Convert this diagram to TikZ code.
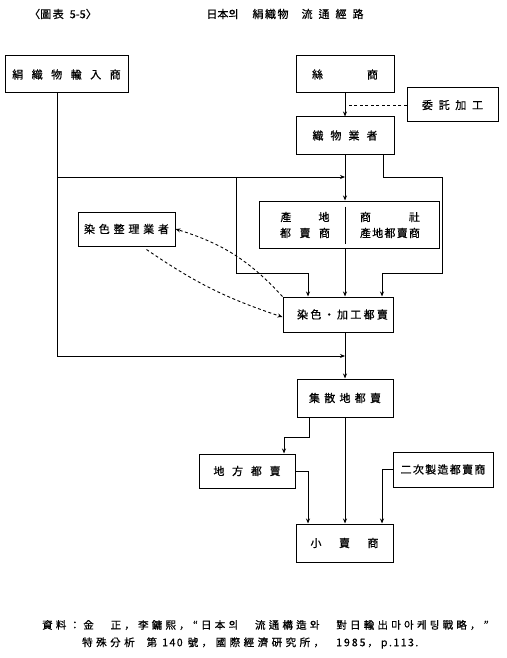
\documentclass[tikz,border=0pt]{standalone}
\usepackage{fontspec}
\setmainfont{Noto Sans CJK KR}[FakeBold=0.6]
\usetikzlibrary{arrows.meta,calc}
\makeatletter
\newcommand\spc[2]{\def\spc@gap{#1}\spc@loop#2\relax}
\def\spc@loop#1#2{#1\ifx\relax#2\expandafter\@gobble\else\hspace{\spc@gap}\expandafter\spc@loop\fi#2}
\makeatother
\tikzset{
  box/.style={draw, line width=1pt, inner sep=0pt, font=\fontsize{11}{16}\selectfont},
  lbl/.style={inner sep=0pt, font=\fontsize{11}{16}\selectfont},
  conn/.style={line width=0.9pt},
  arr/.style={conn, -{Stealth[length=5pt,width=4pt]}},
  dashline/.style={conn, dash pattern=on 3pt off 2.5pt},
}
\begin{document}
\begin{tikzpicture}[x=1pt,y=-1pt]
\useasboundingbox (0,0) rectangle (506,658);
% title
\node[lbl, font=\fontsize{11}{12}\selectfont] (t1) at (63,14) {〈圖\hspace{1.5pt}表\hspace{6pt}5-5〉};
\node[lbl, font=\fontsize{11}{12}\selectfont] (t2) at (285,14) {日本의\hspace{14pt}\spc{1.5pt}{絹織物}\hspace{13pt}\spc{6pt}{流通經路}};
% boxes
\node[box, minimum width=123pt, minimum height=37pt] (imp) at (66.5,74.5) {\spc{8.5pt}{絹織物輸入商}};
\node[box, minimum width=98pt, minimum height=37pt] (silk) at (345,74.5) {絲\hspace{44pt}商};
\node[box, minimum width=91pt, minimum height=34pt] (itaku) at (452.5,105) {\spc{5.7pt}{委託加工}};
\node[box, minimum width=98pt, minimum height=37pt] (weaver) at (345,135.5) {\spc{7pt}{織物業者}};
\node[box, minimum width=180pt, minimum height=47pt] (sanchi) at (349,224.5) {};
\node[lbl, align=center] (sL) at (305,225) {\spc{27pt}{產地}\\\spc{8.5pt}{都賣商}};
\node[lbl, align=center] (sR) at (390,225) {\spc{38pt}{商社}\\\spc{1.25pt}{產地都賣商}};
\draw[conn] ($(sanchi.north)+(-4,6)$) coordinate (dv1) -- ($(sanchi.south)+(-4,-5)$) coordinate (dv2);
\node[box, minimum width=97pt, minimum height=34pt] (dye) at (126.5,229) {\spc{3.8pt}{染色整理業者}};
\node[box, minimum width=110pt, minimum height=35pt] (dyew) at (338,314.5) {\hspace*{9pt}\spc{2.3pt}{染色・加工都賣}};
\node[box, minimum width=96pt, minimum height=38pt] (shusan) at (345,398) {\spc{4.25pt}{集散地都賣}};
\node[box, minimum width=96pt, minimum height=34pt] (chiho) at (247,471) {\spc{7.7pt}{地方都賣}};
\node[box, minimum width=100pt, minimum height=35pt] (niji) at (443,469.5) {\spc{1.3pt}{二次製造都賣商}};
\node[box, minimum width=97pt, minimum height=38pt] (retail) at (344.5,543) {\spc{17.5pt}{小賣商}};
% coordinates
\coordinate (h1) at (57,177);
\coordinate (h2) at (345,177);
\coordinate (h3) at (236,177);
\coordinate (m1) at (345,356);
% connectors
\draw[arr] (silk.south) -- (weaver.north);
\draw[dashline] (itaku.west) -- (itaku.west -| silk.south);
\draw[arr] (weaver.south) -- (weaver.south |- sanchi.north);
\draw[arr] ([xshift=-9.5pt]imp.south) |- (m1);
\draw[arr] (h1) -- (h2);
\draw[arr] (h3) -- (236,273) -| ([xshift=-30pt]dyew.north);
\draw[arr] ([xshift=38pt]weaver.south) -- (383,177) -- (442,177) -- (442,273) -| ([xshift=44pt]dyew.north);
\draw[arr] (weaver.south |- sanchi.south) -- (weaver.south |- dyew.north);
\draw[arr] (weaver.south |- dyew.south) -- (weaver.south |- shusan.north);
\draw[arr] ([xshift=-36pt]shusan.south) -- (309,437) -| ([xshift=37pt]chiho.north);
\draw[arr] (shusan.south) -- (shusan.south |- retail.north);
\draw[arr] (chiho.east) -| ([xshift=-36.5pt]retail.north);
\draw[arr] (niji.west) -| ([xshift=37.5pt]retail.north);
\draw[dashline, -{Stealth[length=5pt,width=4pt]}] (dyew.north west) to[bend right=15] (dye.east);
\draw[dashline, -{Stealth[length=5pt,width=4pt]}] ([xshift=20pt,yshift=-3pt]dye.south) to[bend right=8] ([yshift=-2.5pt]dyew.west);
% footer
\node[lbl, anchor=west, font=\fontsize{10.5}{12}\selectfont] (f1) at (42,625) {\spc{3.2pt}{資料：金　正，李鏞熙，“日本의　流通構造와　對日輸出마아케팅戰略，”}};
\node[lbl, anchor=west, font=\fontsize{10.5}{12}\selectfont] (f2) at (82,643) {\spc{3.5pt}{特殊分析}\hspace{12pt}第\hspace{5pt}\spc{1.5pt}{140}\hspace{5pt}\spc{3.5pt}{號，國際經濟硏究所，}\hspace{12pt}\spc{2pt}{1985，}\hspace{3pt}\spc{1.5pt}{p.113.}};
\end{tikzpicture}
\end{document}
